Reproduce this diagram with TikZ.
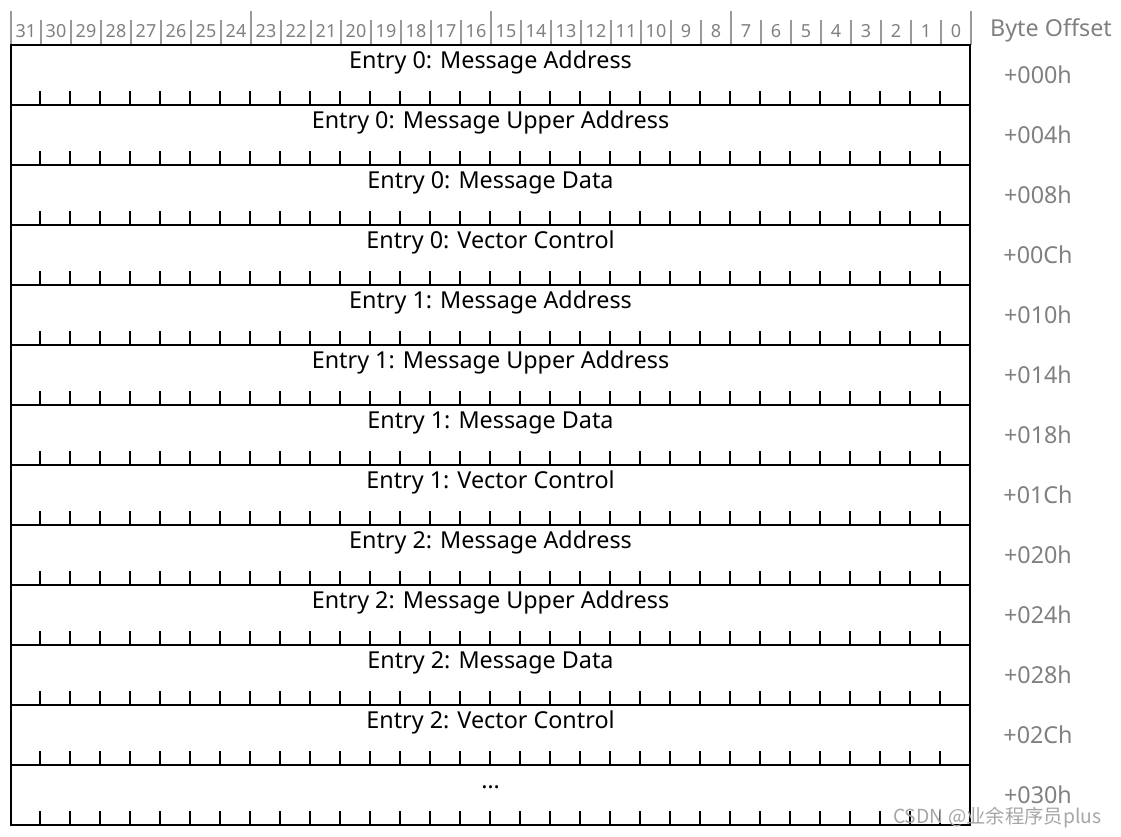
\documentclass[tikz,border=0pt]{standalone}
\usepackage{fontspec}
\setmainfont{Noto Sans}
\newfontfamily\cjk{Noto Sans CJK SC}
\usepackage{xcolor}
\usetikzlibrary{positioning,calc}
\definecolor{hdrgray}{HTML}{808080}
\definecolor{sepgray}{HTML}{9A9A9A}
\tikzset{
  field/.style={rectangle, draw=black, line width=1.6pt, fill=white,
    minimum width=719.25pt, minimum height=45pt, inner sep=0pt},
  entry/.style={font=\fontsize{17.5}{20}\selectfont, text=black, inner sep=0pt, anchor=base},
  offset/.style={font=\fontsize{17.5}{20}\selectfont, text=hdrgray, inner sep=0pt, anchor=base},
  bitnum/.style={font=\fontsize{13.5}{16}\selectfont, text=hdrgray, inner sep=0pt, anchor=base},
  bitsep/.style={draw=sepgray, line width=1.1pt},
  tick/.style={draw=black, line width=1pt},
}
\begin{document}
\begin{tikzpicture}[x=0.75pt, y=-0.75pt]
  \useasboundingbox (0,0) rectangle (1121,836);
  % bit numbers and separators
  \foreach \b in {0,...,31}
    \node[bitnum] (bit\b) at ({956-30*\b}, 37) {\b};
  \foreach \k in {0,...,32} {
    \pgfmathtruncatemacro{\tall}{mod(\k,8)==0 ? 11 : 20}
    \draw[bitsep] ({11+30*\k}, \tall) -- ({11+30*\k}, 45);
  }
  \node[offset] (hdr) at (1051, 36) {Byte Offset};
  % rows
  \foreach \lbl/\off [count=\i from 0] in {
      Entry 0: Message Address/000h, Entry 0: Message Upper Address/004h,
      Entry 0: Message Data/008h, Entry 0: Vector Control/00Ch,
      Entry 1: Message Address/010h, Entry 1: Message Upper Address/014h,
      Entry 1: Message Data/018h, Entry 1: Vector Control/01Ch,
      Entry 2: Message Address/020h, Entry 2: Message Upper Address/024h,
      Entry 2: Message Data/028h, Entry 2: Vector Control/02Ch,
      \dots/030h} {
    \node[field] (row\i) at (490.5, {75+60*\i}) {};
    \node[entry] (lbl\i) at ([yshift=-18.75pt]row\i.north) {\lbl};
    \foreach \k in {1,...,31}
      \draw[tick] ([xshift=\k*22.5pt]row\i.south west) -- ++(0,-15);
    \node[offset] (off\i) at (1038, {83+60*\i}) {+\off};
  }
  \node[anchor=base east, font=\cjk\fontsize{14.5}{17}\selectfont, text=black!35] (mark) at (1106, 823) {CSDN @业余程序员plus};
\end{tikzpicture}
\end{document}
